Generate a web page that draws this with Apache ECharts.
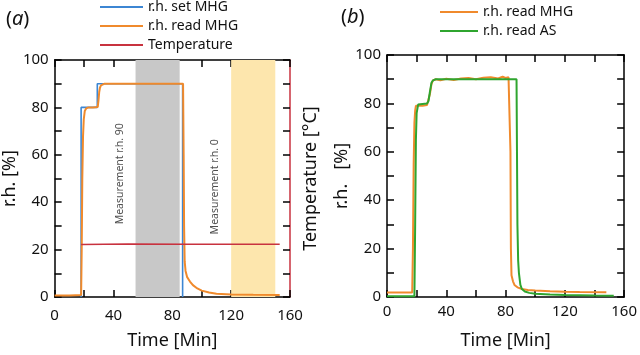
<!DOCTYPE html>
<html><head><meta charset="utf-8">
<script src="https://cdn.jsdelivr.net/npm/echarts@6/dist/echarts.min.js"></script>
<style>html,body{margin:0;padding:0;background:#fff}#c{width:640px;height:355px}</style>
</head><body><div id="c"></div>
<script>
// ---- Panel (a) ----
const setTimeA = [18, 18, 29, 29, 87, 87];
const setValA  = [0, 80, 80, 90, 90, 0];
const readTimeA = [0, 10, 18, 18.4, 18.8, 19.3, 19.8, 20.5, 21.5, 23, 26, 29.3, 29.8, 30.3, 30.8, 31.5, 32.5, 34, 40, 50, 60, 70, 80, 87.3, 87.7, 88, 88.4, 89, 90, 91, 92, 94, 97, 100, 105, 110, 120, 135, 153];
const readValA  = [0.6, 0.6, 0.8, 20, 50, 68, 75, 78.5, 79.6, 80, 80, 80.2, 83, 86.5, 88.3, 89.3, 89.8, 90, 90, 90, 90, 90, 90, 90, 60, 30, 15, 11, 8.5, 7.5, 6.5, 5, 3.6, 2.7, 1.9, 1.4, 1.1, 0.9, 0.8];
const tempTimeA = [18, 50, 90, 120, 153];
const tempValA  = [22.2, 22.4, 22.3, 22.3, 22.3];
const bandStart = [55, 120];
const bandEnd   = [85, 150];
const annotText = ['Measurement r.h. 90', 'Measurement r.h. 0'];
const annotX = [44.3, 109.3];
const annotY = [52, 46.5];

// ---- Panel (b) ----
const mhgTimeB = [0, 17, 17.5, 18, 18.5, 19, 19.5, 21, 24, 27, 28, 29, 30, 31, 33, 36, 40, 45, 50, 55, 60, 65, 70, 75, 78, 80, 82, 83, 83.3, 83.6, 84, 85, 86, 88, 91, 95, 100, 110, 120, 130, 148];
const mhgValB  = [1.9, 1.9, 20, 55, 72, 77, 79, 79, 79, 79.3, 80, 84, 88, 89.5, 90, 89.5, 90.2, 89.7, 90.3, 90.5, 90, 90.6, 90.8, 90.3, 91, 90.5, 90.8, 90.5, 60, 20, 9, 6.5, 5, 4, 3.3, 2.9, 2.7, 2.4, 2.2, 2.1, 2];
const asTimeB = [0, 18.5, 19, 19.5, 20, 21, 22, 27, 28, 29, 30, 31, 33, 50, 70, 87.4, 87.7, 88, 88.5, 89, 90, 91, 93, 96, 100, 110, 120, 140, 153];
const asValB  = [0.3, 0.3, 30, 65, 76, 79.5, 80, 80, 81, 85, 88.5, 89.5, 90, 90, 90, 90, 60, 30, 15, 10, 5, 3.3, 2.3, 1.7, 1.3, 1, 0.8, 0.6, 0.5];

const xTicks = {min: 0, max: 160, interval: 20};
const yTicks = {min: 0, max: 100, interval: 10};

const zip = (a, b) => a.map((v, i) => [v, b[i]]);
const FONT = 'Noto Sans';
const C_BLUE = '#3c86d3', C_ORANGE = '#f08a2c', C_RED = '#c8323f', C_GREEN = '#2fa52f';

function xAxis(grid, pos, labels, margin, gap) {
  return {
    type: 'value', gridIndex: grid, position: pos, ...xTicks,
    axisLine: {show: true, onZero: false, lineStyle: {color: '#000', width: 1.5}},
    axisTick: {show: true, inside: true, length: 7, lineStyle: {color: '#000', width: 1.5}},
    axisLabel: {show: labels, margin: margin, fontFamily: FONT, fontSize: 15, color: '#111',
      formatter: v => (v % 40 === 0 ? String(v) : '')},
    splitLine: {show: false},
    name: labels ? 'Time [Min]' : '', nameLocation: 'middle', nameGap: gap,
    nameTextStyle: {fontFamily: FONT, fontSize: 18, color: '#111'}
  };
}
function yAxis(grid, pos, labels, name, nameGap, lineColor) {
  return {
    type: 'value', gridIndex: grid, position: pos, ...yTicks,
    axisLine: {show: true, onZero: false, lineStyle: {color: lineColor, width: 1.5}},
    axisTick: {show: true, inside: true, length: 7, lineStyle: {color: '#000', width: 1.5}},
    axisLabel: {show: labels, margin: 6, fontFamily: FONT, fontSize: 15, color: '#111',
      formatter: v => (v % 20 === 0 ? String(v) : '')},
    splitLine: {show: false},
    name: name, nameLocation: 'middle', nameGap: nameGap, nameRotate: 90,
    nameTextStyle: {fontFamily: FONT, fontSize: 18, color: '#111'}
  };
}
const legendText = {fontFamily: FONT, fontSize: 14, color: '#111'};
const rich = {n: {fontFamily: FONT, fontSize: 20, color: '#111', fontWeight: 'normal'},
              i: {fontFamily: FONT, fontSize: 20, fontStyle: 'italic', color: '#111', fontWeight: 'normal'}};

const option = {
  animation: false,
  backgroundColor: '#fff',
  title: [
    {text: '{n|(}{i|a}{n|)}', left: 1, top: 4, textStyle: {fontWeight: 'normal', rich: rich}},
    {text: '{n|(}{i|b}{n|)}', left: 336, top: 2, textStyle: {fontWeight: 'normal', rich: rich}}
  ],
  legend: [
    {data: ['r.h. set MHG', 'r.h. read MHG', 'Temperature'], orient: 'vertical', left: 100, top: 0, padding: 0,
      icon: 'rect', itemWidth: 43, itemHeight: 2, itemGap: 5, textStyle: legendText, selectedMode: false},
    {data: ['r.h. read MHG', 'r.h. read AS'], orient: 'vertical', left: 440, top: 5, padding: 0,
      icon: 'rect', itemWidth: 38, itemHeight: 2, itemGap: 5, textStyle: legendText, selectedMode: false}
  ],
  grid: [
    {left: 47, top: 60, width: 243, height: 242},
    {left: 387, top: 55, width: 242, height: 242}
  ],
  xAxis: [xAxis(0, 'bottom', true, 11, 35), xAxis(0, 'top', false, 0, 0), xAxis(1, 'bottom', true, 7, 35), xAxis(1, 'top', false, 0, 0)],
  yAxis: [
    yAxis(0, 'left', true, 'r.h. [%]', 23, '#000'),
    yAxis(0, 'right', false, 'Temperature [°C]', 12, C_RED),
    yAxis(1, 'left', true, 'r.h.   [%]', 33, '#000'),
    yAxis(1, 'right', false, '', 0, '#000')
  ],
  series: [
    {name: 'bands', type: 'line', xAxisIndex: 0, yAxisIndex: 0, data: [], silent: true,
      markArea: {silent: true, data: bandStart.map((s, i) => [
        {xAxis: s, itemStyle: {color: i === 0 ? '#c8c8c8' : '#fde6ad'}}, {xAxis: bandEnd[i]}])}},
    {name: 'annot', type: 'scatter', xAxisIndex: 0, yAxisIndex: 0, symbolSize: 0, silent: true,
      data: annotText.map((t, i) => ({name: t, value: [annotX[i], annotY[i]]})),
      label: {show: true, position: 'inside', rotate: 90, formatter: p => p.name, fontFamily: FONT, fontSize: 10.5, color: '#222'}},
    {name: 'r.h. set MHG', type: 'line', xAxisIndex: 0, yAxisIndex: 0, data: zip(setTimeA, setValA),
      symbol: 'none', lineStyle: {color: C_BLUE, width: 1.6}, itemStyle: {color: C_BLUE}},
    {name: 'r.h. read MHG', type: 'line', xAxisIndex: 0, yAxisIndex: 0, data: zip(readTimeA, readValA),
      symbol: 'none', lineStyle: {color: C_ORANGE, width: 2}, itemStyle: {color: C_ORANGE}},
    {name: 'Temperature', type: 'line', xAxisIndex: 0, yAxisIndex: 1, data: zip(tempTimeA, tempValA),
      symbol: 'none', lineStyle: {color: C_RED, width: 1.5}, itemStyle: {color: C_RED}},
    {name: 'r.h. read MHG', type: 'line', xAxisIndex: 2, yAxisIndex: 2, data: zip(mhgTimeB, mhgValB),
      symbol: 'none', lineStyle: {color: C_ORANGE, width: 2}, itemStyle: {color: C_ORANGE}},
    {name: 'r.h. read AS', type: 'line', xAxisIndex: 2, yAxisIndex: 2, data: zip(asTimeB, asValB),
      symbol: 'none', lineStyle: {color: C_GREEN, width: 2}, itemStyle: {color: C_GREEN}}
  ]
};
const chart = echarts.init(document.getElementById('c'), null, {renderer: 'canvas'});
chart.setOption(option);
</script>
</body></html>
